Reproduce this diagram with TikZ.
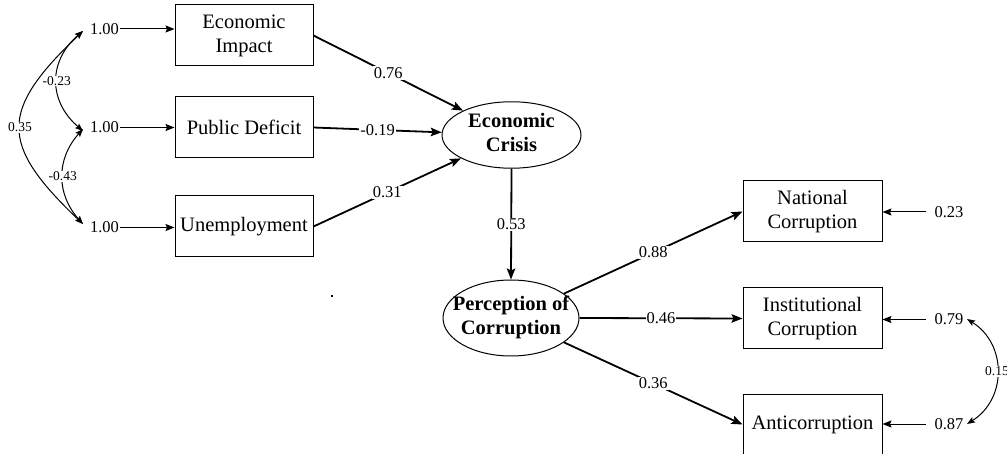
\documentclass[tikz,border=0pt]{standalone}
\usepackage{fontspec}
\setmainfont{Liberation Serif}
\usetikzlibrary{arrows.meta,shapes.geometric}
\begin{document}
\begin{tikzpicture}[x=1pt,y=-1pt,
  obs/.style={draw, line width=1pt, minimum width=138pt, minimum height=61pt, inner sep=0pt, align=center, font=\fontsize{20.5}{24}\selectfont},
  lat/.style={draw, ellipse, line width=1pt, inner sep=0pt, font=\fontsize{20.5}{23.5}\selectfont\bfseries},
  val/.style={inner sep=1pt, font=\fontsize{16.5}{18}\selectfont},
  sval/.style={inner sep=0.5pt, fill=white, font=\fontsize{13.5}{15}\selectfont},
  plbl/.style={fill=white, inner sep=1pt, font=\fontsize{16.5}{18}\selectfont},
  arr/.style={-{Stealth[length=11pt,width=8.5pt,inset=2pt]}, line width=1.8pt},
  earr/.style={-{Stealth[length=9pt,width=7pt,inset=1.5pt]}, line width=1pt},
  cov/.style={{Stealth[length=8pt,width=6pt,inset=1.5pt]}-{Stealth[length=8pt,width=6pt,inset=1.5pt]}, line width=1pt},
]
\useasboundingbox (0,0) rectangle (1007,454);
\clip (0,0) rectangle (1007,454);

% observed exogenous
\node[obs] (ei) at (244,35.5) {Economic\\Impact};
\node[obs] (pd) at (244,127.5) {Public Deficit};
\node[obs] (un) at (244,226.5) {Unemployment};

% latent
\node[lat, minimum width=139pt, minimum height=66pt] (ec) at (511.5,135)
  {\makebox[0pt]{\begin{tabular}{@{}c@{}}Economic\\Crisis\end{tabular}}};
\node[lat, minimum width=136pt, minimum height=76pt] (pc) at (511,318)
  {\makebox[0pt]{\begin{tabular}{@{}c@{}}Perception of\\Corruption\end{tabular}}};

% observed endogenous
\node[obs, minimum width=139pt] (nc) at (812.5,211.5) {National\\Corruption};
\node[obs, minimum width=139pt] (ic) at (812.5,318.5) {Institutional\\Corruption};
\node[obs, minimum width=139pt] (ac) at (812.5,424.5) {Anticorruption};

% variances
\node[val] (v1) at (104.5,29) {1.00};
\node[val] (v2) at (104.5,127.5) {1.00};
\node[val] (v3) at (104.5,227.5) {1.00};
\node[val] (e1) at (949,212) {0.23};
\node[val] (e2) at (949,319.5) {0.79};
\node[val] (e3) at (949,424) {0.87};

\draw[earr] (v1.east) -- (v1.east -| ei.west);
\draw[earr] (v2.east) -- (v2.east -| pd.west);
\draw[earr] (v3.east) -- (v3.east -| un.west);

\draw[earr] ([xshift=-7pt]e1.west) -- (e1.west -| nc.east);
\draw[earr] ([xshift=-7pt]e2.west) -- (e2.west -| ic.east);
\draw[earr] ([xshift=-7pt]e3.west) -- (e3.west -| ac.east);

% structural paths
\draw[arr] (ei.east) -- node[plbl]{0.76} (ec);
\draw[arr] (pd.east) -- node[plbl]{-0.19} (ec);
\draw[arr] (un.east) -- node[plbl]{0.31} (ec);
\draw[arr] (ec.south) -- node[plbl]{0.53} (pc.north);
\draw[arr] (pc) -- node[plbl]{0.88} (nc.west);
\draw[arr] (pc.east) -- node[plbl]{0.46} (ic.west);
\draw[arr] (pc) -- node[plbl]{0.36} (ac.west);

% covariances
\coordinate (t1) at (83,31);
\coordinate (t2a) at (83,131);
\coordinate (t2b) at (83,129);
\coordinate (t3) at (83,224);
\draw[cov] (t1) .. controls +(-84,80) and +(-84,-80) .. node[sval]{0.35} (t3);
\draw[cov] (t1) .. controls +(-35,30) and +(-35,-30) .. node[sval]{-0.23} (t2a);
\draw[cov] (t2b) .. controls +(-27,30) and +(-27,-30) .. node[sval]{-0.43} (t3);

\coordinate (r1) at (967,319);
\coordinate (r2) at (967,424);
\draw[cov] (r1) .. controls +(40,25) and +(40,-25) .. node[sval]{0.15} (r2);

% stray dot
\fill (331,295) rectangle (333,297);
\end{tikzpicture}
\end{document}
